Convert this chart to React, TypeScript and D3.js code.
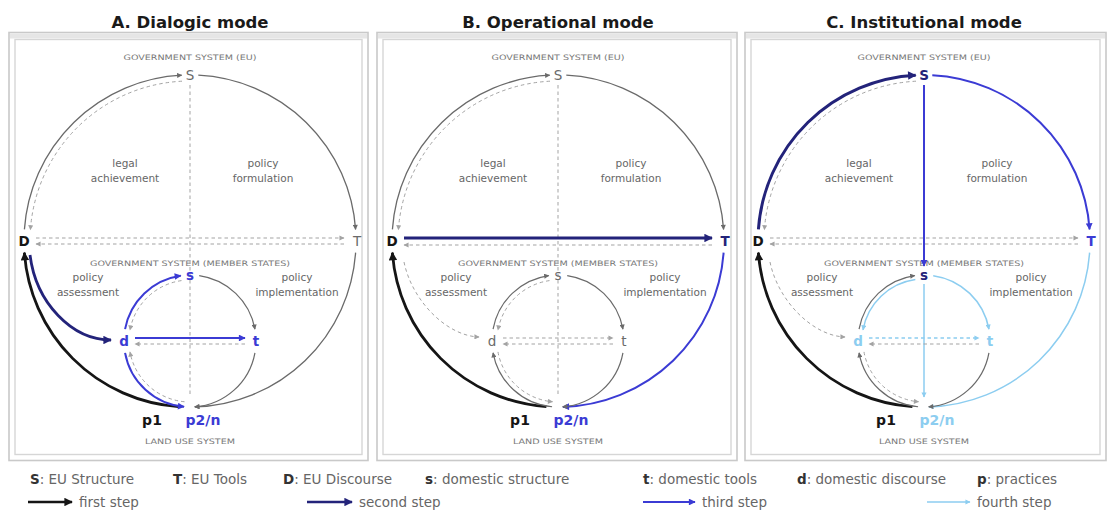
import React from "react";
import * as d3 from "d3";

const W = 1112;
const H = 511;
const CY = 241;
const R = 166;
const SCY = 341;
const SR = 66;

const COL: Record<string, string> = {
  black: "#151515",
  navy: "#23237a",
  blue: "#3b3bd4",
  light: "#8ccdf0",
  gray: "#6a6a6a",
  dash: "#a3a3a3",
  text: "#5a5a5a",
};

const panelTitles = ["A. Dialogic mode", "B. Operational mode", "C. Institutional mode"];
const panelCenters = [190, 558, 924];
const panelLeft = [9, 377, 745];
const panelRight = [368, 737, 1106];

const quadrantLabels = [
  { lines: ["legal", "achievement"], dx: -65, y: 163 },
  { lines: ["policy", "formulation"], dx: 73, y: 163 },
  { lines: ["policy", "assessment"], dx: -102, y: 277 },
  { lines: ["policy", "implementation"], dx: 107, y: 277 },
];

const systemLabels = [
  { text: "GOVERNMENT SYSTEM (EU)", y: 57, w: 133 },
  { text: "GOVERNMENT SYSTEM (MEMBER STATES)", y: 263, w: 200 },
  { text: "LAND USE SYSTEM", y: 441, w: 90 },
];

// [kind, key, color, width, dashed, reverse, offset]
type Edge = [string, string, string, number, boolean, boolean, number];

const edgesA: Edge[] = [
  ["v", "axis", "dash", 1, true, false, 0],
  ["big", "DS", "gray", 1.3, false, false, 0],
  ["big", "DS", "dash", 1, true, true, -6],
  ["big", "ST", "gray", 1.3, false, false, 0],
  ["big", "Tp", "gray", 1.3, false, false, 0],
  ["big", "pD", "black", 2.8, false, false, 0],
  ["h", "DT", "dash", 1, true, false, -3],
  ["h", "DT", "dash", 1, true, true, 3],
  ["curve", "Dd", "navy", 2.8, false, false, 0],
  ["small", "ds", "blue", 2, false, false, 0],
  ["small", "ds", "dash", 1, true, true, -5],
  ["small", "st", "gray", 1.2, false, false, 0],
  ["small", "tp", "gray", 1.2, false, false, 0],
  ["small", "pd", "dash", 1, true, false, -5],
  ["small", "pd", "blue", 2, false, true, 0],
  ["h", "dt", "blue", 2, false, false, -3],
  ["h", "dt", "dash", 1, true, true, 3],
];

const edgesB: Edge[] = [
  ["v", "axis", "dash", 1, true, false, 0],
  ["big", "DS", "gray", 1.3, false, false, 0],
  ["big", "DS", "dash", 1, true, true, -6],
  ["big", "ST", "gray", 1.3, false, false, 0],
  ["h", "DT", "dash", 1, true, true, 4],
  ["h", "DT", "navy", 3, false, false, -3],
  ["big", "Tp", "blue", 2, false, false, 0],
  ["big", "pD", "black", 2.8, false, false, 0],
  ["curve", "Dd", "dash", 1, true, false, 1],
  ["small", "ds", "gray", 1.2, false, false, 0],
  ["small", "ds", "dash", 1, true, true, -5],
  ["small", "st", "gray", 1.2, false, false, 0],
  ["small", "tp", "gray", 1.2, false, false, 0],
  ["small", "pd", "gray", 1.2, false, false, 0],
  ["small", "pd", "dash", 1, true, true, -5],
  ["h", "dt", "dash", 1, true, false, -3],
  ["h", "dt", "dash", 1, true, true, 3],
];

const edgesC: Edge[] = [
  ["big", "DS", "navy", 3, false, false, 0],
  ["big", "DS", "dash", 1, true, true, -6],
  ["big", "ST", "blue", 2, false, false, 0],
  ["h", "DT", "dash", 1, true, false, -3],
  ["h", "DT", "dash", 1, true, true, 3],
  ["v", "Ss", "blue", 2, false, false, 0],
  ["v", "sp", "light", 1.5, false, false, 0],
  ["big", "Tp", "light", 1.5, false, false, 0],
  ["big", "pD", "black", 2.8, false, false, 0],
  ["curve", "Dd", "dash", 1, true, false, 1],
  ["small", "ds", "gray", 1.2, false, false, 0],
  ["small", "ds", "light", 1.5, false, true, -4],
  ["small", "st", "light", 1.5, false, false, 0],
  ["small", "tp", "gray", 1.2, false, false, 0],
  ["small", "pd", "gray", 1.2, false, false, 0],
  ["small", "pd", "dash", 1, true, true, -5],
  ["h", "dt", "light", 1.3, true, false, -3],
  ["h", "dt", "dash", 1, true, true, 3],
];

const panelEdges = [edgesA, edgesB, edgesC];

// node label styles: [color, bold]
type NodeStyle = Record<string, [string, boolean]>;
const nodesA: NodeStyle = {
  S: ["gray", false], T: ["gray", false], D: ["black", true],
  s: ["blue", true], d: ["blue", true], t: ["blue", true],
  p1: ["black", true], p2: ["blue", true],
};
const nodesB: NodeStyle = {
  S: ["gray", false], T: ["navy", true], D: ["black", true],
  s: ["gray", false], d: ["gray", false], t: ["gray", false],
  p1: ["black", true], p2: ["blue", true],
};
const nodesC: NodeStyle = {
  S: ["navy", true], T: ["blue", true], D: ["black", true],
  s: ["navy", true], d: ["light", true], t: ["light", true],
  p1: ["black", true], p2: ["light", true],
};
const panelNodes = [nodesA, nodesB, nodesC];
const nodeText: Record<string, string> = { S: "S", T: "T", D: "D", s: "s", d: "d", t: "t", p1: "p1", p2: "p2/n" };

const legendKeys = [
  { k: "S", t: ": EU Structure", x: 30 },
  { k: "T", t: ": EU Tools", x: 173 },
  { k: "D", t: ": EU Discourse", x: 283 },
  { k: "s", t: ": domestic structure", x: 425 },
  { k: "t", t: ": domestic tools", x: 643 },
  { k: "d", t: ": domestic discourse", x: 797 },
  { k: "p", t: ": practices", x: 977 },
];
const legendSteps = [
  { label: "first step", color: "black", w: 2.6, x0: 28, x1: 72 },
  { label: "second step", color: "navy", w: 2.6, x0: 307, x1: 352 },
  { label: "third step", color: "blue", w: 2, x0: 643, x1: 695 },
  { label: "fourth step", color: "light", w: 1.3, x0: 927, x1: 970 },
];

const PI = Math.PI;
const bigAngles: Record<string, [number, number]> = {
  DS: [PI + 0.07, 1.5 * PI - 0.05],
  ST: [1.5 * PI + 0.05, 2 * PI - 0.07],
  Tp: [0.07, 0.5 * PI - 0.03],
  pD: [0.5 * PI + 0.07, PI - 0.07],
};
const smallAngles: Record<string, [number, number]> = {
  ds: [PI + 0.18, 1.5 * PI - 0.14],
  st: [1.5 * PI + 0.14, 2 * PI - 0.18],
  tp: [0.18, 0.5 * PI - 0.07],
  pd: [0.5 * PI + 0.09, PI - 0.18],
};

function sizeOf(w: number) {
  return w >= 2.5 ? 10 : w >= 1.8 ? 8 : 6;
}

function edgePath(e: Edge, cx: number): string {
  const [kind, key, , , , rev, off] = e;
  const p = d3.path();
  if (kind === "big" || kind === "small") {
    const [a0, a1] = kind === "big" ? bigAngles[key] : smallAngles[key];
    const r = (kind === "big" ? R : SR) + off;
    const cy = kind === "big" ? CY : SCY;
    if (!rev) p.arc(cx, cy, r, a0, a1, false);
    else p.arc(cx, cy, r, a1, a0, true);
  } else if (kind === "h") {
    const half = key === "DT" ? R - 12 : SR - 11;
    const y = (key === "DT" ? CY : SCY) + off;
    const xa = cx - half;
    const xb = cx + half;
    if (!rev) {
      p.moveTo(xa, y);
      p.lineTo(xb, y);
    } else {
      p.moveTo(xb, y);
      p.lineTo(xa, y);
    }
  } else if (kind === "v") {
    let y0 = CY - R + 10;
    let y1 = CY + R - 10;
    if (key === "Ss") y1 = SCY - SR - 9;
    if (key === "sp") y0 = SCY - SR + 9;
    p.moveTo(cx + off, y0);
    p.lineTo(cx + off, y1);
  } else if (kind === "curve") {
    if (off === 0) {
      p.moveTo(cx - R + 6, CY + 14);
      p.bezierCurveTo(cx - R + 12, CY + 62, cx - SR - 52, SCY - 1, cx - SR - 13, SCY - 1);
    } else {
      p.moveTo(cx - R + 12, CY + 21);
      p.bezierCurveTo(cx - R + 20, CY + 60, cx - SR - 45, SCY - 5, cx - SR - 13, SCY - 4);
    }
  }
  return p.toString();
}

export default function App() {
  const markerSet = new Set<string>();
  panelEdges.forEach((list) =>
    list.forEach((e) => {
      if (e[1] !== "axis") markerSet.add(`${e[2]}-${sizeOf(e[3])}`);
    })
  );
  legendSteps.forEach((s) => markerSet.add(`${s.color}-${sizeOf(s.w + 0.3)}`));
  const markers = Array.from(markerSet);

  return (
    <svg width={W} height={H} viewBox={`0 0 ${W} ${H}`} style={{ position: "absolute", left: 0, top: 0, background: "#fff" }}>
      <defs>
        {markers.map((m) => {
          const [c, s] = m.split("-");
          const size = +s;
          return (
            <marker
              key={m}
              id={`arr-${m}`}
              viewBox="0 0 10 10"
              refX={9}
              refY={5}
              markerWidth={size}
              markerHeight={size * 0.85}
              markerUnits="userSpaceOnUse"
              orient="auto"
            >
              <path d="M0,0 L10,5 L0,10 Z" fill={COL[c]} />
            </marker>
          );
        })}
      </defs>
      <rect x={0} y={0} width={W} height={H} fill="#fff" />
      {panelCenters.map((cx, i) => {
        const x0 = panelLeft[i];
        const x1 = panelRight[i];
        const nodes = panelNodes[i];
        const pos: Record<string, [number, number]> = {
          S: [cx, CY - R],
          T: [cx + R + 1, CY],
          D: [cx - R, CY],
          s: [cx, SCY - SR],
          d: [cx - SR, SCY],
          t: [cx + SR, SCY],
          p1: [cx - 38, 420],
          p2: [cx + 13, 420],
        };
        return (
          <g key={i}>
            <text
              x={cx}
              y={28}
              textAnchor="middle"
              fontFamily="DejaVu Sans, Verdana, sans-serif"
              fontWeight="bold"
              fontSize={16.5}
              fill="#1a1a1a"
            >
              {panelTitles[i]}
            </text>
            <rect x={x0} y={32.5} width={x1 - x0} height={428} fill="none" stroke="#c9c9c9" strokeWidth={1.6} />
            <rect x={x0 + 6} y={39.5} width={x1 - x0 - 12} height={415} fill="none" stroke="#d6d6d6" strokeWidth={1.4} />
            <line x1={x0 + 1} x2={x1 - 1} y1={36} y2={36} stroke="#e6e6e6" strokeWidth={5} />
            {systemLabels.map((s, j) => (
              <text
                key={j}
                x={cx}
                y={s.y}
                textAnchor="middle"
                dominantBaseline="central"
                fontFamily="DejaVu Sans, sans-serif"
                fontSize={7.5}
                fill="#777"
                textLength={s.w}
                lengthAdjust="spacingAndGlyphs"
              >
                {s.text}
              </text>
            ))}
            {quadrantLabels.map((q, j) => (
              <text
                key={j}
                x={cx + q.dx}
                y={q.y}
                textAnchor="middle"
                dominantBaseline="central"
                fontFamily="DejaVu Sans, sans-serif"
                fontSize={10.5}
                fill="#666"
              >
                {q.lines.map((l, k) => (
                  <tspan key={k} x={cx + q.dx} dy={k === 0 ? 0 : 14.5}>
                    {l}
                  </tspan>
                ))}
              </text>
            ))}
            {panelEdges[i].map((e, j) => {
              const [, key, color, w, dashed] = e;
              return (
                <path
                  key={j}
                  d={edgePath(e, cx)}
                  fill="none"
                  stroke={COL[color]}
                  strokeWidth={w}
                  strokeDasharray={dashed ? "3.5,3" : undefined}
                  markerEnd={key === "axis" ? undefined : `url(#arr-${color}-${sizeOf(w)})`}
                />
              );
            })}
            {Object.keys(pos).map((k) => {
              const [c, b] = nodes[k];
              return (
                <text
                  key={k}
                  x={pos[k][0]}
                  y={pos[k][1]}
                  textAnchor="middle"
                  dominantBaseline="central"
                  fontFamily="DejaVu Sans, Verdana, sans-serif"
                  fontWeight={b ? "bold" : "normal"}
                  fontSize={k.startsWith("p") ? 14 : 13.5}
                  fill={COL[c]}
                  stroke="#fff"
                  strokeWidth={0}
                >
                  {nodeText[k]}
                </text>
              );
            })}
          </g>
        );
      })}
      {legendKeys.map((l, i) => (
        <text key={i} x={l.x} y={484} fontFamily="DejaVu Sans, Verdana, sans-serif" fontSize={13.5} fill="#666">
          <tspan fontWeight="bold" fill="#333">
            {l.k}
          </tspan>
          {l.t}
        </text>
      ))}
      {legendSteps.map((s, i) => (
        <g key={i}>
          <line
            x1={s.x0}
            x2={s.x1}
            y1={502}
            y2={502}
            stroke={COL[s.color]}
            strokeWidth={s.w}
            markerEnd={`url(#arr-${s.color}-${sizeOf(s.w + 0.3)})`}
          />
          <text x={s.x1 + 7} y={507} fontFamily="DejaVu Sans, Verdana, sans-serif" fontSize={13.5} fill="#666">
            {s.label}
          </text>
        </g>
      ))}
    </svg>
  );
}
